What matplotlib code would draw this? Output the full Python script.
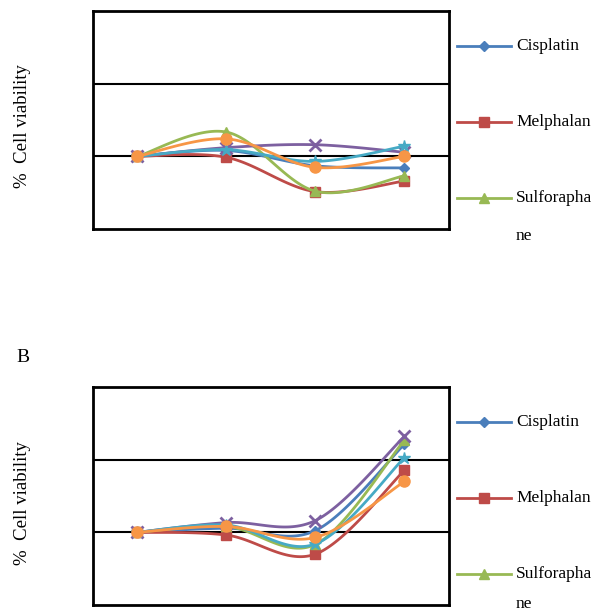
import numpy as np
import matplotlib
matplotlib.use("Agg")
import matplotlib.pyplot as plt
from matplotlib.lines import Line2D

# ---- data ----
time_points = ["T0", "T1", "T2", "T3"]
series_names = ["Cisplatin", "Melphalan", "Sulforaphane", "Series4", "Series5", "Series6"]
legend_labels = ["Cisplatin", "Melphalan", "Sulforapha\nne"]

panelA_cisplatin = [100, 104, 93.5, 92]
panelA_melphalan = [100, 99.3, 75.7, 83]
panelA_sulforaphane = [100, 116.7, 76, 86.6]
panelA_series4 = [100, 106, 108, 102.8]
panelA_series5 = [100, 104.6, 96.5, 107]
panelA_series6 = [100, 112, 92.4, 100]

panelB_cisplatin = [100, 102.8, 101.2, 160.6]
panelB_melphalan = [100, 98.1, 85, 142.6]
panelB_sulforaphane = [100, 104, 91.7, 163.4]
panelB_series4 = [100, 106.7, 108.1, 166]
panelB_series5 = [100, 105, 92, 151.4]
panelB_series6 = [100, 104, 96.5, 135]

y_limits = (50, 200)
y_grid = [100, 150]

# ---- style ----
colors = ["#4A7EBB", "#BE4B48", "#98B954", "#7D60A0", "#46AAC5", "#F79646"]
markers = ["D", "s", "^", "x", "*", "o"]
msizes = [5.5, 7, 7, 8, 9, 8]
plt.rcParams["font.family"] = ["Liberation Serif", "DejaVu Serif"]


def smooth(xs, ys, n=40):
    xs = np.asarray(xs, float)
    ys = np.asarray(ys, float)
    px = np.concatenate([[xs[0]], xs, [xs[-1]]])
    py = np.concatenate([[ys[0]], ys, [ys[-1]]])
    ox, oy = [], []
    t = np.linspace(0, 1, n)
    for i in range(1, len(px) - 2):
        p0 = np.array([px[i], py[i]])
        p3 = np.array([px[i + 1], py[i + 1]])
        p1 = p0 + (np.array([px[i + 1], py[i + 1]]) - np.array([px[i - 1], py[i - 1]])) / 6
        p2 = p3 - (np.array([px[i + 2], py[i + 2]]) - np.array([px[i], py[i]])) / 6
        b = ((1 - t) ** 3)[:, None] * p0 + (3 * (1 - t) ** 2 * t)[:, None] * p1 \
            + (3 * (1 - t) * t ** 2)[:, None] * p2 + (t ** 3)[:, None] * p3
        ox.extend(b[:, 0])
        oy.extend(b[:, 1])
    return ox, oy


fig = plt.figure(figsize=(5.93, 6.14), dpi=100)

panels = [
    ([panelA_cisplatin, panelA_melphalan, panelA_sulforaphane,
      panelA_series4, panelA_series5, panelA_series6], [0.1568, 0.627, 0.6003, 0.3551]),
    ([panelB_cisplatin, panelB_melphalan, panelB_sulforaphane,
      panelB_series4, panelB_series5, panelB_series6], [0.1568, 0.0147, 0.6003, 0.3551]),
]

x = np.arange(len(time_points))
axes = []
for data, rect in panels:
    ax = fig.add_axes(rect)
    axes.append(ax)
    for yv in y_grid:
        ax.axhline(yv, color="black", lw=1.5, zorder=1)
    for i, ys in enumerate(data):
        sx, sy = smooth(x, ys)
        ax.plot(sx, sy, color=colors[i], lw=2.0, zorder=2 + i)
        ax.plot(x, ys, linestyle="none", marker=markers[i], ms=msizes[i],
                color=colors[i], mec=colors[i], mew=2 if markers[i] in ("x",) else 1,
                zorder=2 + i)
    ax.set_xlim(-0.5, len(time_points) - 0.5)
    ax.set_ylim(*y_limits)
    ax.set_xticks([])
    ax.set_yticks([])
    for s in ax.spines.values():
        s.set_linewidth(2)
        s.set_color("black")

# y labels and panel letter
fig.text(0.038, 0.795, "%  Cell viability", rotation=90, ha="center", va="center", fontsize=13.5)
fig.text(0.038, 0.181, "%  Cell viability", rotation=90, ha="center", va="center", fontsize=13.5)
fig.text(0.038, 0.418, "B", ha="center", va="center", fontsize=14)

# legends (only first three entries visible)
legend_rows = [[46, 122, 198, 236], [422, 498, 574, 604]]
H = 614.0
W = 593.0
for rows in legend_rows:
    for i, lab in enumerate(legend_labels):
        yf = 1 - rows[i] / H
        fig.add_artist(Line2D([457 / W, 511 / W], [yf, yf], color=colors[i], lw=2,
                              transform=fig.transFigure))
        fig.add_artist(Line2D([484 / W], [yf], marker=markers[i], ms=msizes[i],
                              color=colors[i], transform=fig.transFigure))
        parts = lab.split("\n")
        fig.text(516 / W, yf, parts[0], ha="left", va="center", fontsize=12.5)
        if len(parts) > 1:
            fig.text(516 / W, 1 - rows[3] / H, parts[1], ha="left", va="center", fontsize=12.5)

fig.savefig("out.png", dpi=100)
